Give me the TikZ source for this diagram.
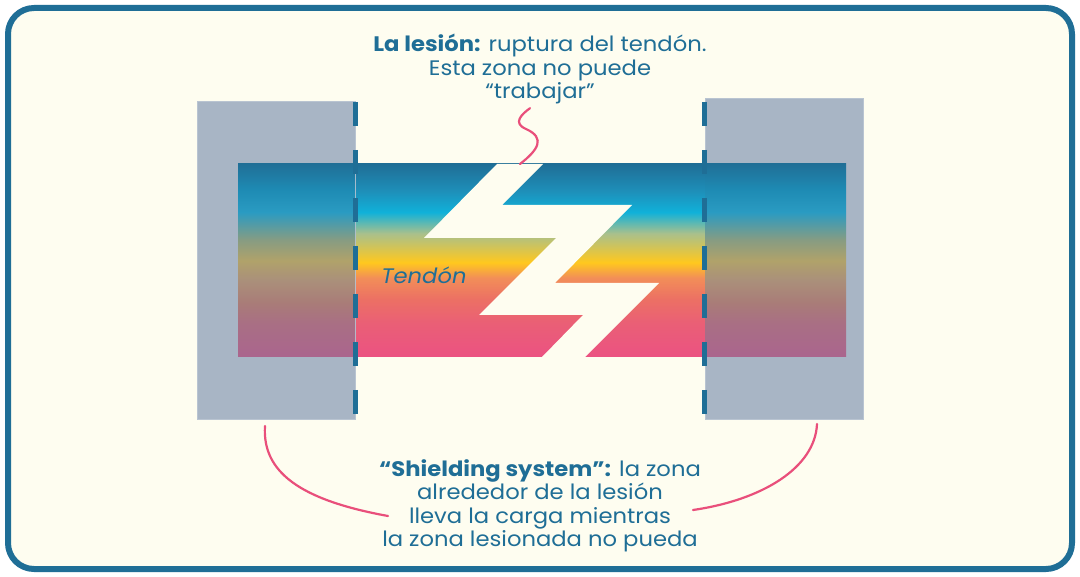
\documentclass[tikz,border=0pt]{standalone}
\usepackage{fontspec}
\setmainfont{Poppins}[FakeStretch=1.08]
\definecolor{ink}{HTML}{1F6E96}
\definecolor{cream}{HTML}{FEFDF0}
\definecolor{rose}{HTML}{E94F7B}
\definecolor{shieldgrey}{HTML}{A8B5C5}
% bright tendon colours (bottom to top)
\definecolor{b0}{HTML}{EB5282}
\definecolor{b1}{HTML}{EA5F76}
\definecolor{b2}{HTML}{EC7064}
\definecolor{b3}{HTML}{F28E58}
\definecolor{b4}{HTML}{FFC81E}
\definecolor{b5}{HTML}{A9C08C}
\definecolor{b6}{HTML}{10B1D9}
\definecolor{b7}{HTML}{1E8FB9}
\definecolor{b8}{HTML}{1F6E96}
% muted tendon colours under the shields
\definecolor{m0}{HTML}{AA658E}
\definecolor{m1}{HTML}{A96F84}
\definecolor{m2}{HTML}{A97C78}
\definecolor{m3}{HTML}{AA907A}
\definecolor{m4}{HTML}{B0A26A}
\definecolor{m5}{HTML}{879C82}
\definecolor{m6}{HTML}{2A9BC2}
\definecolor{m7}{HTML}{1E8BB4}
\definecolor{m8}{HTML}{206F97}
\pgfdeclareverticalshading{tendonbright}{100bp}{color(0bp)=(b0); color(25bp)=(b0);
	color(33.8bp)=(b1); color(40bp)=(b2); color(45.5bp)=(b3); color(49.5bp)=(b4);
	color(57bp)=(b5); color(62.5bp)=(b6); color(68bp)=(b7); color(75bp)=(b8); color(100bp)=(b8)}
\pgfdeclareverticalshading{tendonmuted}{100bp}{color(0bp)=(m0); color(25bp)=(m0);
	color(33.8bp)=(m1); color(39bp)=(m2); color(45bp)=(m3); color(50bp)=(m4);
	color(55.3bp)=(m5); color(62.5bp)=(m6); color(68.3bp)=(m7); color(75bp)=(m8); color(100bp)=(m8)}

\begin{document}
\begin{tikzpicture}[x=1pt, y=-1pt,
	frame/.style={draw=ink, line width=6pt, fill=cream, rounded corners=26pt},
	band/.style={shading=tendonbright},
	dull/.style={shading=tendonmuted},
	shield/.style={fill=shieldgrey, draw=shieldgrey!80!white, line width=0.6pt},
	cut/.style={fill=cream},
	seam/.style={draw=ink, line width=5pt, dash pattern=on 24pt off 24pt},
	link/.style={draw=rose, line width=2.2pt, line cap=round},
	txt/.style={text=ink, align=center, inner sep=0pt,
				font=\fontsize{21}{23.5}\selectfont}]
	\useasboundingbox (0,0) rectangle (1080,577);
	\fill[white] (0,0) rectangle (1080,577);
	\path[frame] (8,8) rectangle (1072,569);

	\path[band] (238,164) rectangle (846,357);
	\path[shield] (197,101) rectangle (355,419);
	\path[shield] (705,98) rectangle (863,419);
	\path[dull] (238,164) rectangle (355,357);
	\path[dull] (705,164) rectangle (846,357);

	% the tear
	\path[cut] (497,164) -- (543,164) -- (502,205) -- (632,205) -- (555,283)
		-- (659,283) -- (585,357) -- (542,357) -- (583,315) -- (479,315)
		-- (556,238) -- (424,238) -- cycle;

	\coordinate (leftseam) at (355.5,102);
	\coordinate (rightseam) at (704.5,102);
	\draw[seam] (leftseam) -- ++(0,316);
	\draw[seam] (rightseam) -- ++(0,316);

	\node[txt] (lesion) at (540,69)
		{\textbf{La lesión:} ruptura del tendón.\\Esta zona no puede\\“trabajar”};
	\node[txt, font=\fontsize{21}{23.5}\selectfont\itshape] (tendon) at (424,275) {Tendón};
	\node[txt] (shielding) at (540,506)
		{\textbf{“Shielding system”:} la zona\\alrededor de la lesión\\lleva la carga mientras\\la zona lesionada no pueda};

	\coordinate (tear) at (520,164);
	\coordinate (lefthold) at (265,426);
	\coordinate (righthold) at (817,424);
	\coordinate (leftend) at (388,516);
	\coordinate (rightend) at (693,510);
	\draw[link] (lesion.south) ++(-10,4) .. controls (522,114) and (512,123)
		.. (526,129) .. controls (546,138) and (538,150) .. (tear);
	\draw[link] (lefthold) .. controls (262,472) and (300,500) .. (leftend);
	\draw[link] (rightend) .. controls (762,500) and (815,468) .. (righthold);
\end{tikzpicture}
\end{document}
